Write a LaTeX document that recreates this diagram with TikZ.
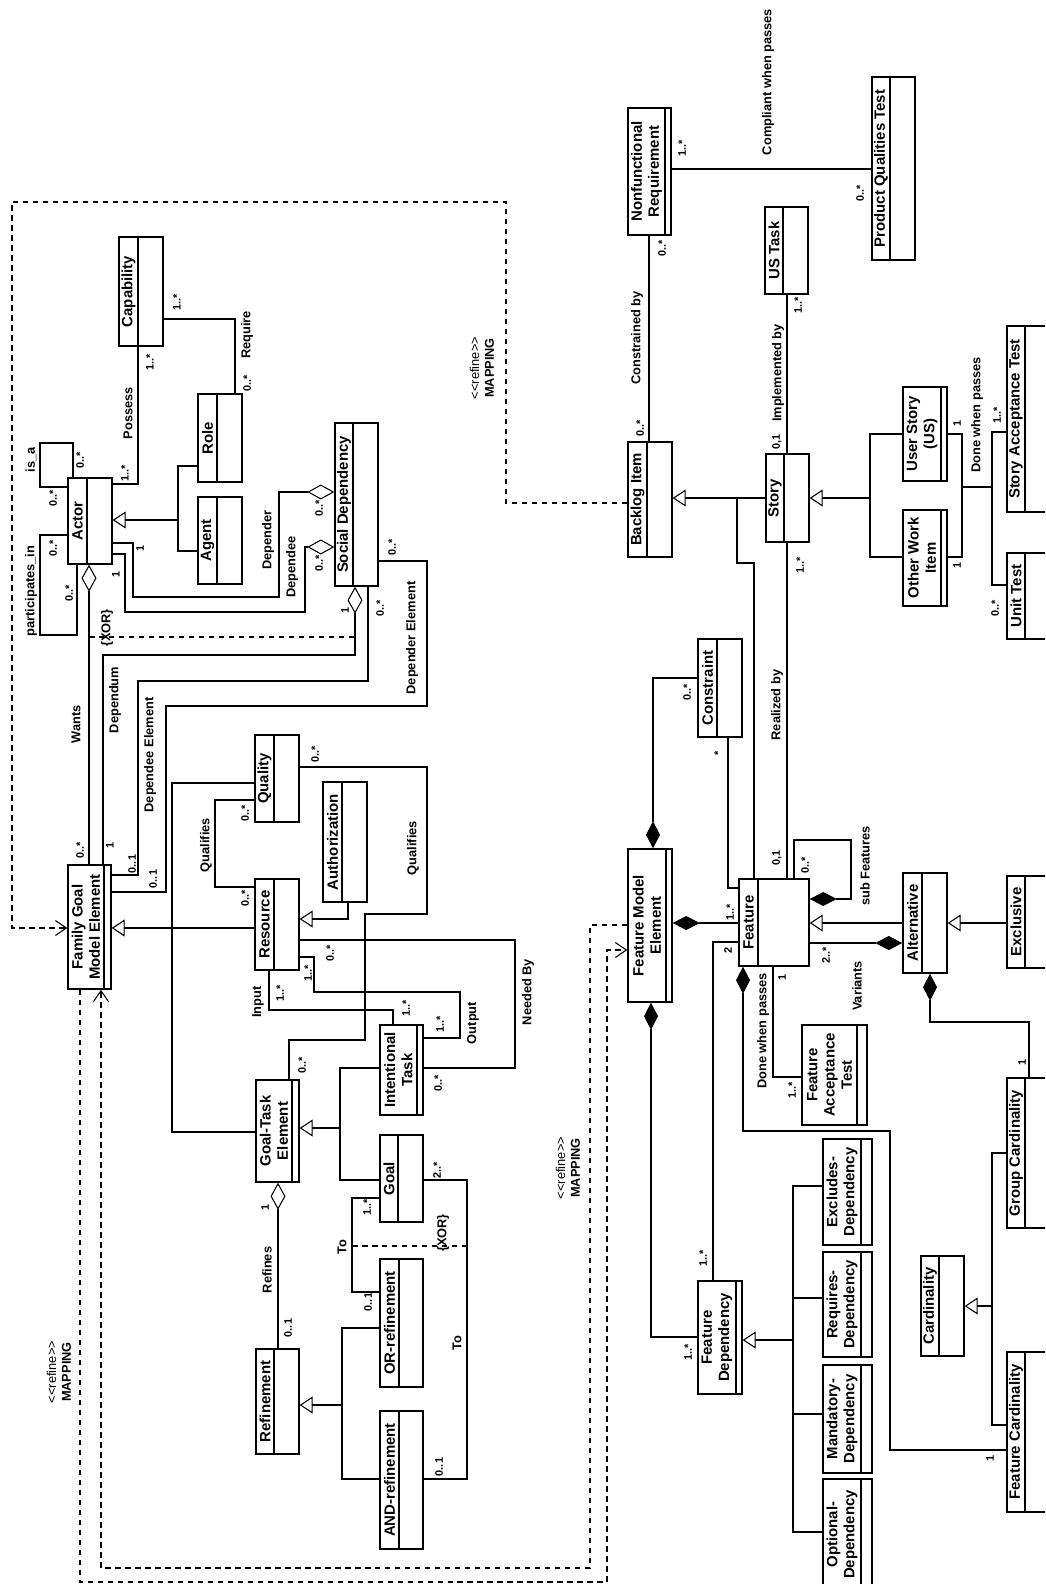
\documentclass[tikz,border=0pt]{standalone}
\usepackage{fontspec}
\setmainfont{Liberation Sans}
\usetikzlibrary{arrows.meta, fit}
\tikzset{
  clsbox/.style={draw, line width=0.8pt, inner sep=0pt, fill=white},
  clsline/.style={line width=0.8pt},
  clsname/.style={rotate=90, align=center, inner sep=0pt, font=\bfseries\fontsize{8.5}{9.8}\selectfont},
  lbl/.style={rotate=90, align=center, inner sep=0pt, font=\bfseries\fontsize{7.3}{8.4}\selectfont},
  mult/.style={rotate=90, inner sep=0pt, font=\bfseries\fontsize{6.2}{7}\selectfont},
  asc/.style={line width=0.6pt},
  gen/.style={asc, -{Triangle[fill=white, length=0.26cm, width=0.34cm]}},
  agg/.style={asc, -{Diamond[fill=white, length=0.54cm, width=0.3cm]}},
  comp/.style={asc, -{Diamond[length=0.54cm, width=0.28cm]}},
  map/.style={line width=0.6pt, dash pattern=on 0.11cm off 0.09cm, -{Straight Barb[length=0.22cm, width=0.3cm]}},
  xorc/.style={line width=0.6pt, dash pattern=on 0.11cm off 0.09cm}
}
% class box: name, left, top, right, bottom, separator, title
\newcommand{\umlcls}[7]{%
  \node[clsbox, fit={(#2,#3) (#4,#5)}] (#1) {};
  \draw[clsline] (#6,#3) -- (#6,#5);
  \node[clsname] (#1-name) at ({(#2+#6)/2},{(#3+#5)/2}) {#7};}

\begin{document}
\begin{tikzpicture}[x=0.02cm, y=-0.02cm]
  \useasboundingbox (0,0) rectangle (1045,1584);
  \fill[white] (0,0) rectangle (1045,1584);
  \clip (0,0) rectangle (1045,1584);

  % goal model classes
  \umlcls{capability}{119}{237}{163}{346}{138}{Capability}
  \umlcls{role}{198}{394}{242}{482}{217}{Role}
  \umlcls{agent}{198}{497}{242}{584}{217}{Agent}
  \umlcls{actor}{68}{478}{112}{564}{87}{Actor}
  \umlcls{socdep}{335}{423}{378}{586}{353}{Social Dependency}
  \umlcls{fgme}{68}{865}{111}{989}{104}{Family Goal\\Model Element}
  \umlcls{quality}{255}{735}{299}{822}{274}{Quality}
  \umlcls{authz}{323}{782}{367}{902}{342}{Authorization}
  \umlcls{resource}{255}{879}{299}{970}{274}{Resource}
  \umlcls{gte}{256}{1080}{299}{1182}{292}{Goal-Task\\Element}
  \umlcls{itask}{380}{1025}{423}{1115}{417}{Intentional\\Task}
  \umlcls{goal}{380}{1135}{423}{1222}{398}{Goal}
  \umlcls{refinement}{256}{1349}{299}{1454}{274}{Refinement}
  \umlcls{orref}{380}{1259}{423}{1387}{399}{OR-refinement}
  \umlcls{andref}{380}{1411}{423}{1549}{399}{AND-refinement}

  % feature / backlog classes
  \umlcls{nfr}{628}{108}{671}{235}{665}{Nonfunctional\\Requirement}
  \umlcls{pqt}{872}{77}{915}{260}{890}{Product Qualities Test}
  \umlcls{ustask}{765}{207}{808}{294}{783}{US Task}
  \umlcls{backlog}{628}{442}{672}{557}{647}{Backlog Item}
  \umlcls{story}{766}{454}{809}{542}{784}{Story}
  \umlcls{userstory}{903}{387}{947}{481}{941}{User Story\\(US)}
  \umlcls{otherwork}{903}{510}{947}{606}{941}{Other Work\\Item}
  \umlcls{storytest}{1007}{326}{1060}{512}{1025}{Story Acceptance Test}
  \umlcls{unittest}{1007}{553}{1060}{639}{1025}{Unit Test}
  \umlcls{constraint}{698}{639}{742}{737}{717}{Constraint}
  \umlcls{fme}{628}{849}{672}{1002}{666}{Feature Model\\Element}
  \umlcls{feature}{739}{879}{809}{966}{758}{Feature}
  \umlcls{alternative}{903}{873}{947}{973}{922}{Alternative}
  \umlcls{exclusive}{1007}{876}{1060}{968}{1025}{Exclusive}
  \umlcls{fat}{802}{1025}{867}{1125}{857}{Feature\\Acceptance\\Test}
  \umlcls{featdep}{698}{1281}{742}{1394}{736}{Feature\\Dependency}
  \umlcls{excldep}{823}{1139}{872}{1245}{861}{Excludes-\\Dependency}
  \umlcls{reqdep}{823}{1252}{872}{1357}{861}{Requires-\\Dependency}
  \umlcls{manddep}{823}{1365}{872}{1473}{861}{Mandatory-\\Dependency}
  \umlcls{optdep}{823}{1479}{872}{1590}{861}{Optional-\\Dependency}
  \umlcls{cardinality}{921}{1256}{964}{1356}{939}{Cardinality}
  \umlcls{groupcard}{1007}{1078}{1060}{1228}{1025}{Group Cardinality}
  \umlcls{featcard}{1007}{1352}{1060}{1512}{1025}{Feature Cardinality}

  % actor associations
  \draw[asc] (actor.east |- 0,484) -| (capability.south -| 138,0);
  \node[lbl] (t-possess) at (128,413) {Possess};
  \node[mult] (m-possess1) at (125,473) {1..*};
  \node[mult] (m-possess2) at (150,362) {1..*};
  \draw[asc] (capability.east |- 0,319) -| (role.north -| 235,0);
  \node[lbl] (t-require) at (247,335) {Require};
  \node[mult] (m-require1) at (177,302) {1..*};
  \node[mult] (m-require2) at (247,383) {0..*};
  \draw[asc] (actor.north -| 73,0) -- (73,443) -- (40,443) -- (40,487) -- (actor.west |- 0,487);
  \node[lbl] (t-isa) at (31,460) {is\_a};
  \node[mult] (m-isa1) at (53,498) {0..*};
  \node[mult] (m-isa2) at (80,460) {0..*};
  \draw[asc] (actor.west |- 0,535) -- (40,535) -- (40,635) -- (77,635) -- (actor.south -| 77,0);
  \node[lbl] (t-partin) at (31,591) {participates\_in};
  \node[mult] (m-partin1) at (53,548) {0..*};
  \node[mult] (m-partin2) at (69,593) {0..*};
  \draw[asc] (role.west |- 0,466) -| (178,551) -- (agent.west |- 0,551);
  \draw[gen] (178,520) -- (actor.east |- 0,520);
  \draw[agg] (fgme.north -| 89,0) -- (actor.south -| 89,0);
  \node[lbl] (t-wants) at (76,724) {Wants};
  \node[mult] (m-wants) at (80,850) {0..*};

  % social dependency
  \draw[agg] (actor.east |- 0,543) -| (133,597) -| (279,492) -- (socdep.west |- 0,492);
  \node[lbl] (t-depender) at (268,540) {Depender};
  \node[mult] (m-depender1) at (140,548) {1};
  \node[mult] (m-depender2) at (319,508) {0..*};
  \draw[agg] (actor.east |- 0,554) -| (125,612) -| (305,547) -- (socdep.west |- 0,547);
  \node[lbl] (t-dependee) at (292,567) {Dependee};
  \node[mult] (m-dependee1) at (116,574) {1};
  \node[mult] (m-dependee2) at (319,563) {0..*};
  \draw[agg] (fgme.north -| 103,0) |- (355,655) -- (socdep.south -| 355,0);
  \node[lbl] (t-dependum) at (115,700) {Dependum};
  \node[mult] (m-dependum1) at (110,845) {1};
  \node[mult] (m-dependum2) at (345,610) {1};
  \draw[asc] (socdep.south -| 368,0) |- (138,681) |- (fgme.east |- 0,875);
  \node[lbl] (t-deeelem) at (150,755) {Dependee Element};
  \node[mult] (m-deeelem1) at (132,864) {0..1};
  \node[mult] (m-deeelem2) at (380,608) {0..*};
  \draw[asc] (socdep.east |- 0,561) -| (427,706) -| (166,892) -- (fgme.east |- 0,892);
  \node[lbl] (t-derelem) at (412,638) {Depender Element};
  \node[mult] (m-derelem1) at (153,879) {0..1};
  \node[mult] (m-derelem2) at (392,547) {0..*};
  \coordinate (xor1a) at (89,637);
  \coordinate (xor1b) at (355,637);
  \draw[xorc] (xor1a) -- (xor1b);
  \node[lbl] (t-xor1) at (107,628) {\{XOR\}};

  % goal model elements
  \draw[gen] (resource.west |- 0,928) -- (fgme.east |- 0,928);
  \draw[asc] (quality.west |- 0,783) -| (172,1132) -- (gte.west |- 0,1132);
  \draw[asc] (quality.west |- 0,800) -| (215,887) -- (resource.west |- 0,887);
  \node[lbl] (t-qual1) at (206,845) {Qualifies};
  \node[mult] (m-qual1a) at (245,813) {0..*};
  \node[mult] (m-qual1b) at (245,898) {0..*};
  \draw[asc] (quality.east |- 0,767) -| (427,914) -| (365,1040) -| (gte.north -| 289,0);
  \node[lbl] (t-qual2) at (413,848) {Qualifies};
  \node[mult] (m-qual2a) at (315,754) {0..*};
  \node[mult] (m-qual2b) at (302,1065) {0..*};
  \draw[gen] (authz.south -| 348,0) |- (resource.east |- 0,919);
  \draw[asc] (resource.east |- 0,940) -| (515,1068) -- (itask.east |- 0,1068);
  \node[lbl] (t-needed) at (528,992) {Needed By};
  \node[mult] (m-needed1) at (330,953) {0..*};
  \node[mult] (m-needed2) at (438,1083) {0..*};
  \draw[asc] (resource.south -| 269,0) |- (393,1010) -- (itask.north -| 393,0);
  \node[lbl] (t-input) at (258,1002) {Input};
  \node[mult] (m-input1) at (280,993) {1..*};
  \node[mult] (m-input2) at (406,1008) {1..*};
  \draw[asc] (resource.east |- 0,957) -| (314,992) -| (460,1038) -- (itask.east |- 0,1038);
  \node[lbl] (t-output) at (473,1023) {Output};
  \node[mult] (m-output1) at (308,973) {1..*};
  \node[mult] (m-output2) at (440,1024) {1..*};
  \draw[asc] (itask.west |- 0,1068) -| (340,1180) -- (goal.west |- 0,1180);
  \draw[gen] (340,1128) -- (gte.east |- 0,1128);

  % refinements
  \draw[agg] (refinement.north -| 278,0) -- (gte.south -| 278,0);
  \node[lbl] (t-refines) at (267,1270) {Refines};
  \node[mult] (m-refines1) at (265,1207) {1};
  \node[mult] (m-refines2) at (288,1328) {0..1};
  \draw[asc] (goal.west |- 0,1198) -| (352,1292) -- (orref.west |- 0,1292);
  \node[lbl] (t-to1) at (342,1247) {To};
  \node[mult] (m-to1a) at (367,1207) {1..*};
  \node[mult] (m-to1b) at (368,1302) {0..1};
  \draw[asc] (goal.east |- 0,1180) -| (467,1479) -- (andref.east |- 0,1479);
  \node[lbl] (t-to2) at (457,1343) {To};
  \node[mult] (m-to2a) at (437,1170) {2..*};
  \node[mult] (m-to2b) at (439,1467) {0..1};
  \coordinate (xor2a) at (352,1246);
  \coordinate (xor2b) at (467,1246);
  \draw[xorc] (xor2a) -- (xor2b);
  \node[lbl] (t-xor2) at (443,1233) {\{XOR\}};
  \draw[asc] (orref.west |- 0,1328) -| (342,1479) -- (andref.west |- 0,1479);
  \draw[gen] (342,1405) -- (refinement.east |- 0,1405);

  % refine mappings
  \draw[map] (backlog.west |- 0,503) -| (506,202) -| (12,928) -- (fgme.west |- 0,928);
  \draw[map] (fme.west |- 0,925) -| (590,1568) -| (fgme.south -| 101,0);
  \draw[map] (fgme.south -| 80,0) |- (607,1582) |- (fme.west |- 0,950);
  \node[lbl] (t-map1) at (482,368) {{\mdseries <{}<refine>{}>}\\MAPPING};
  \node[lbl] (t-map2) at (59,1372) {{\mdseries <{}<refine>{}>}\\MAPPING};
  \node[lbl] (t-map3) at (568,1168) {{\mdseries <{}<refine>{}>}\\MAPPING};

  % backlog side
  \draw[asc] (nfr.south -| 649,0) -- (backlog.north -| 649,0);
  \node[lbl] (t-constr) at (637,338) {Constrained by};
  \node[mult] (m-constr1) at (662,248) {0..*};
  \node[mult] (m-constr2) at (640,428) {0..*};
  \draw[asc] (nfr.east |- 0,169) -- (pqt.west |- 0,169);
  \node[lbl] (t-compl) at (768,82) {Compliant when passes};
  \node[mult] (m-compl1) at (682,148) {1..*};
  \node[mult] (m-compl2) at (860,193) {0..*};
  \draw[asc] (ustask.south -| 787,0) -- (story.north -| 787,0);
  \node[lbl] (t-impl) at (778,373) {Implemented by};
  \node[mult] (m-impl1) at (798,305) {1..*};
  \node[mult] (m-impl2) at (777,442) {0,1};
  \draw[gen] (story.west |- 0,498) -- (backlog.east |- 0,498);
  \draw[asc] (feature.north -| 754,0) |- (737,563) -- (737,498);
  \draw[asc] (userstory.west |- 0,434) -| (870,557) -- (otherwork.west |- 0,557);
  \draw[gen] (870,498) -- (story.east |- 0,498);
  \draw[asc] (userstory.east |- 0,434) -| (962,557) -- (otherwork.east |- 0,557);
  \draw[asc] (storytest.west |- 0,432) -| (992,585) -- (unittest.west |- 0,585);
  \draw[asc] (962,487) -- (992,487);
  \node[lbl] (t-done1) at (977,415) {Done when passes};
  \node[mult] (m-done1a) at (957,423) {1};
  \node[mult] (m-done1b) at (957,565) {1};
  \node[mult] (m-done1c) at (997,415) {1..*};
  \node[mult] (m-done1d) at (995,608) {0..*};
  \draw[asc] (story.south -| 787,0) -- (feature.north -| 787,0);
  \node[lbl] (t-real) at (777,705) {Realized by};
  \node[mult] (m-real1) at (800,565) {1..*};
  \node[mult] (m-real2) at (777,858) {0,1};

  % feature model
  \draw[asc] (constraint.south -| 728,0) |- (feature.west |- 0,888);
  \node[mult] (m-cons1) at (718,753) {*};
  \draw[comp] (constraint.west |- 0,678) -| (fme.north -| 653,0);
  \node[mult] (m-cons2) at (687,692) {0..*};
  \draw[comp] (feature.west |- 0,923) -- (fme.east |- 0,923);
  \node[mult] (m-feat) at (730,912) {1..*};
  \draw[comp] (feature.north -| 794,0) |- (851,840) |- (feature.east |- 0,899);
  \node[lbl] (t-sub) at (865,866) {sub Features};
  \node[mult] (m-sub) at (805,865) {0..*};
  \draw[gen] (alternative.west |- 0,923) -- (feature.east |- 0,923);
  \draw[comp] (feature.east |- 0,943) -- (alternative.west |- 0,943);
  \node[lbl] (t-variants) at (857,986) {Variants};
  \node[mult] (m-variants) at (826,955) {2..*};
  \draw[gen] (exclusive.west |- 0,923) -- (alternative.east |- 0,923);
  \draw[comp] (groupcard.north -| 1029,0) |- (930,1022) -- (alternative.south -| 930,0);
  \node[mult] (m-group) at (1022,1062) {1};
  \draw[asc] (feature.south -| 773,0) |- (fat.west |- 0,1077);
  \node[lbl] (t-done2) at (763,1031) {Done when passes};
  \node[mult] (m-done2a) at (782,977) {1};
  \node[mult] (m-done2b) at (792,1090) {1..*};
  \draw[comp] (featcard.west |- 0,1450) -| (890,1131) -| (feature.south -| 743,0);
  \node[mult] (m-fcard) at (990,1458) {1};
  \draw[asc] (feature.west |- 0,942) -| (featdep.north -| 713,0);
  \node[mult] (m-two) at (728,950) {2};
  \node[mult] (m-fdep1) at (703,1258) {1..*};
  \draw[comp] (featdep.west |- 0,1337) -| (fme.south -| 651,0);
  \node[mult] (m-fdep2) at (688,1352) {1..*};
  \draw[asc] (excldep.west |- 0,1186) -| (793,1532) -- (optdep.west |- 0,1532);
  \draw[asc] (793,1298) -- (reqdep.west |- 0,1298);
  \draw[asc] (793,1414) -- (manddep.west |- 0,1414);
  \draw[gen] (793,1340) -- (featdep.east |- 0,1340);
  \draw[asc] (groupcard.west |- 0,1153) -| (992,1425) -- (featcard.west |- 0,1425);
  \draw[gen] (992,1306) -- (cardinality.east |- 0,1306);
\end{tikzpicture}
\end{document}
